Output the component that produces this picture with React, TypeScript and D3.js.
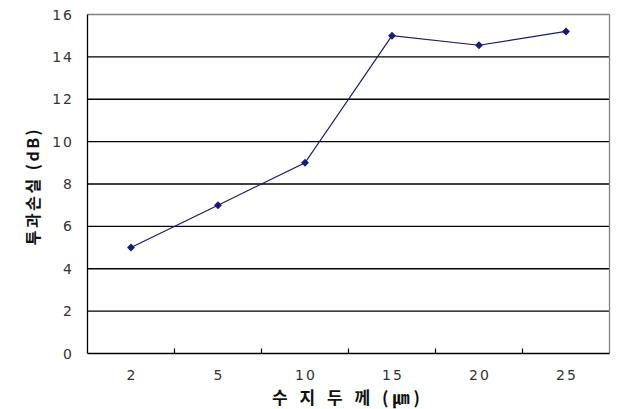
import React from "react";
import * as d3 from "d3";

const categories = ["2", "5", "10", "15", "20", "25"];
const values = [5, 7, 9, 15, 14.55, 15.2];
const yTicks = [0, 2, 4, 6, 8, 10, 12, 14, 16];
const xTitle = "수 지 두 께 (㎛)";
const yTitle = "투과손실 (dB)";

export default function App() {
  const W = 624, H = 409;
  const left = 87.5, right = 609.5, top = 14.5, bottom = 353.5;
  const x = d3.scaleBand<string>().domain(categories).range([left, right]).padding(0);
  const y = d3.scaleLinear().domain([0, 16]).range([bottom, top]);
  const cx = (c: string) => (x(c) as number) + x.bandwidth() / 2;
  const line = d3
    .line<number>()
    .x((_, i) => cx(categories[i]))
    .y((d) => y(d));
  const font = "'Noto Sans CJK KR', 'DejaVu Sans', sans-serif";
  const boundaries = categories.slice(1).map((c) => x(c) as number);
  const diamond = d3.symbol().type(d3.symbolDiamond2).size(40)();
  return (
    <svg width={W} height={H} style={{ position: "absolute", left: 0, top: 0, background: "#fff" }}>
      <rect x={0} y={0} width={W} height={H} fill="#fff" />
      {yTicks.slice(1, -1).map((t) => (
        <line key={t} x1={left} x2={right} y1={y(t)} y2={y(t)} stroke="#000" strokeWidth={1.3} />
      ))}
      <line x1={left} x2={right} y1={top} y2={top} stroke="#808080" strokeWidth={1.3} />
      <line x1={right} x2={right} y1={top} y2={bottom} stroke="#808080" strokeWidth={1.3} />
      <line x1={left} x2={left} y1={top} y2={bottom} stroke="#000" strokeWidth={1.3} />
      <line x1={left} x2={right} y1={bottom} y2={bottom} stroke="#000" strokeWidth={1.3} />
      {boundaries.map((b, i) => (
        <line key={i} x1={b} x2={b} y1={bottom} y2={bottom - 5} stroke="#000" strokeWidth={1.2} />
      ))}
      {yTicks.map((t) => (
        <text key={t} x={74} y={y(t)} dy="0.36em" textAnchor="end" fontFamily="'DejaVu Sans', sans-serif" fontSize={14} fill="#333" letterSpacing={2}>
          {t}
        </text>
      ))}
      {categories.map((c) => (
        <text key={c} x={cx(c) + 1} y={375} dy="0.36em" textAnchor="middle" fontFamily="'DejaVu Sans', sans-serif" fontSize={14} fill="#333" letterSpacing={2}>
          {c}
        </text>
      ))}
      <path d={line(values) || ""} fill="none" stroke="#1a1a6e" strokeWidth={1.2} />
      {values.map((v, i) => (
        <path key={i} d={diamond || ""} transform={`translate(${cx(categories[i])},${y(v)})`} fill="#1a1a7a" />
      ))}
      <text x={348} y={398} dy="0.36em" textAnchor="middle" fontFamily={font} fontSize={17} fontWeight="bold" fill="#111" letterSpacing={4}>
        {xTitle}
      </text>
      <text transform={`translate(33,186) rotate(-90)`} dy="0.36em" textAnchor="middle" fontFamily={font} fontSize={16} fontWeight="bold" fill="#111" letterSpacing={2.5}>
        {yTitle}
      </text>
    </svg>
  );
}
